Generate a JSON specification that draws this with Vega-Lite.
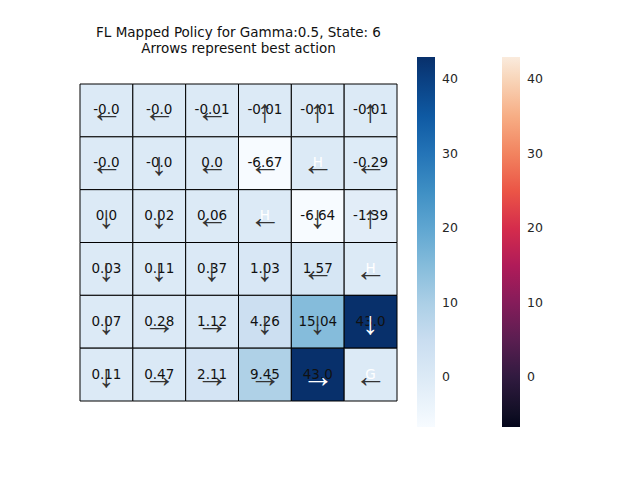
{
"$schema":"https://vega.github.io/schema/vega-lite/v6.json",
"width":317,"height":317,"autosize":"none",
"padding":{"left":80,"top":84,"right":243,"bottom":79},
"background":"white",
"config":{"view":{"stroke":null},"font":"DejaVu Sans"},
"title":{"text":["FL Mapped Policy for Gamma:0.5, State: 6","Arrows represent best action"],"fontSize":13.5,"fontWeight":"normal","color":"#111111","offset":2,"lineHeight":16},
"data":{"values":[
{"r":0,"c":0,"v":0,"t":"-0.0","a":"←"},{"r":0,"c":1,"v":0,"t":"-0.0","a":"←"},{"r":0,"c":2,"v":-0.01,"t":"-0.01","a":"←"},{"r":0,"c":3,"v":-0.01,"t":"-0.01","a":"↑"},{"r":0,"c":4,"v":-0.01,"t":"-0.01","a":"↑"},{"r":0,"c":5,"v":-0.01,"t":"-0.01","a":"↑"},
{"r":1,"c":0,"v":0,"t":"-0.0","a":"←"},{"r":1,"c":1,"v":0,"t":"-0.0","a":"↓"},{"r":1,"c":2,"v":0,"t":"0.0","a":"←"},{"r":1,"c":3,"v":-6.67,"t":"-6.67","a":"←"},{"r":1,"c":4,"v":0,"t":"H","a":"←"},{"r":1,"c":5,"v":-0.29,"t":"-0.29","a":"←"},
{"r":2,"c":0,"v":0,"t":"0.0","a":"↓"},{"r":2,"c":1,"v":0.02,"t":"0.02","a":"↓"},{"r":2,"c":2,"v":0.06,"t":"0.06","a":"←"},{"r":2,"c":3,"v":0,"t":"H","a":"←"},{"r":2,"c":4,"v":-6.64,"t":"-6.64","a":"↓"},{"r":2,"c":5,"v":-1.39,"t":"-1.39","a":"↑"},
{"r":3,"c":0,"v":0.03,"t":"0.03","a":"↓"},{"r":3,"c":1,"v":0.11,"t":"0.11","a":"↓"},{"r":3,"c":2,"v":0.37,"t":"0.37","a":"↓"},{"r":3,"c":3,"v":1.03,"t":"1.03","a":"↓"},{"r":3,"c":4,"v":1.57,"t":"1.57","a":"←"},{"r":3,"c":5,"v":0,"t":"H","a":"←"},
{"r":4,"c":0,"v":0.07,"t":"0.07","a":"↓"},{"r":4,"c":1,"v":0.28,"t":"0.28","a":"→"},{"r":4,"c":2,"v":1.12,"t":"1.12","a":"→"},{"r":4,"c":3,"v":4.26,"t":"4.26","a":"↓"},{"r":4,"c":4,"v":15.04,"t":"15.04","a":"↓"},{"r":4,"c":5,"v":43.0,"t":"43.0","a":"↓"},
{"r":5,"c":0,"v":0.11,"t":"0.11","a":"↓"},{"r":5,"c":1,"v":0.47,"t":"0.47","a":"→"},{"r":5,"c":2,"v":2.11,"t":"2.11","a":"→"},{"r":5,"c":3,"v":9.45,"t":"9.45","a":"→"},{"r":5,"c":4,"v":43.0,"t":"43.0","a":"→"},{"r":5,"c":5,"v":0,"t":"G","a":"←"}
]},
"encoding":{
"x":{"field":"c","type":"ordinal","axis":null,"scale":{"paddingInner":0,"paddingOuter":0}},
"y":{"field":"r","type":"ordinal","axis":null,"scale":{"paddingInner":0,"paddingOuter":0}}
},
"layer":[
{"mark":{"type":"rect","stroke":"black","strokeWidth":1},
 "encoding":{"fill":{"field":"v","type":"quantitative","scale":{"range":["#f7fbff","#deebf7","#c6dbef","#9ecae1","#6baed6","#4292c6","#2171b5","#08519c","#08306b"],"domain":[-6.67,43.0]},
 "legend":{"title":null,"orient":"none","legendX":337,"legendY":-27,"gradientLength":370,"gradientThickness":18,"values":[0,10,20,30,40],"labelFontSize":12.5,"labelColor":"#262626","gradientStrokeWidth":0,"labelOffset":7}}}},
{"mark":{"type":"rect","fill":null,"strokeOpacity":0,"strokeWidth":0},
 "encoding":{"stroke":{"field":"v","type":"quantitative","scale":{"range":["#03051a","#4c1d4b","#a11a5b","#e83f3f","#f69c73","#faebdd"],"domain":[-6.67,43.0]},
 "legend":{"title":null,"orient":"none","legendX":422,"legendY":-27,"gradientLength":370,"gradientThickness":18,"values":[0,10,20,30,40],"labelFontSize":12.5,"labelColor":"#262626","gradientStrokeWidth":0,"labelOffset":7,"gradientOpacity":1}}}},
{"mark":{"type":"text","fontSize":13.5},
 "encoding":{"text":{"field":"t"},"color":{"condition":{"test":"datum.t==='H'||datum.t==='G'","value":"white"},"value":"#111111"}}},
{"mark":{"type":"text","fontSize":32,"font":"Liberation Sans","dy":2},
 "encoding":{"text":{"field":"a"},"color":{"condition":{"test":"datum.v>30","value":"white"},"value":"#333333"}}}
],
"resolve":{"scale":{"fill":"independent","stroke":"independent"},"legend":{"fill":"independent","stroke":"independent"}}
}
